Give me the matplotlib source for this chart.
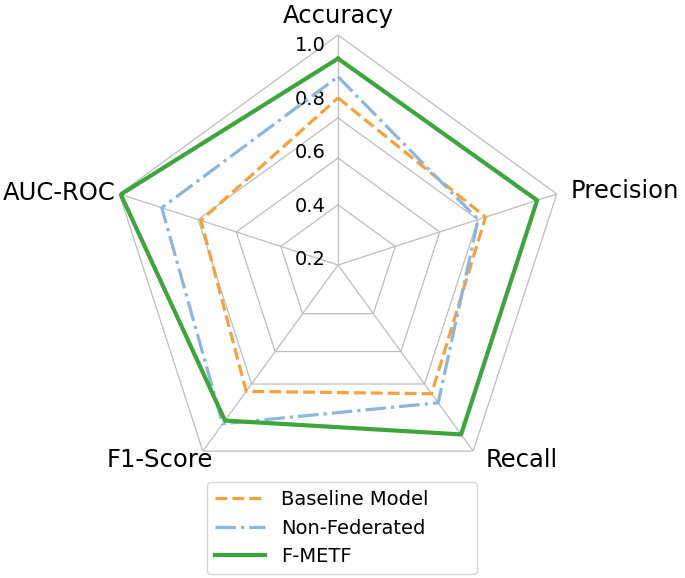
import numpy as np
import matplotlib.pyplot as plt

# Values
categories = ['Accuracy', 'Precision', 'Recall', 'F1-Score', 'AUC-ROC']
baseline = [0.805, 0.760, 0.775, 0.764, 0.719]
non_federated = [0.884, 0.731, 0.817, 0.914, 0.873]
f_metf = [0.952, 0.963, 0.963, 0.899, 1.034]
r_ticks = [0.2, 0.4, 0.6, 0.8, 1.0]
grid_levels = [0.405, 0.58, 0.73]
r_min, r_max = 0.18, 1.04

angles = np.linspace(0, 2 * np.pi, len(categories), endpoint=False)
closed = np.append(angles, angles[0])

fig = plt.figure(figsize=(6.85, 5.78), dpi=100)
ax = fig.add_axes([0.1577, 0.1436, 0.6715, 0.7958], projection='polar')
ax.set_theta_offset(np.pi / 2)
ax.set_theta_direction(-1)
ax.set_ylim(r_min, r_max)
ax.set_xticks([])
ax.set_yticks([])
ax.spines['polar'].set_visible(False)
ax.grid(False)
ax.patch.set_visible(False)

# polygon grid and frame
for lev in grid_levels + [r_max]:
    ax.plot(closed, [lev] * len(closed), color='#bdbdbd', lw=0.9, zorder=1)
for a in angles:
    ax.plot([a, a], [r_min, r_max], color='#bdbdbd', lw=0.9, zorder=1)

# radial labels
for t in r_ticks:
    ax.annotate(f'{t:.1f}', xy=(0, t), xytext=(-12, 0), textcoords='offset pixels',
                ha='right', va='center', fontsize=14)

# category labels
label_pos = {
    'Accuracy': ((0, 7), 'center', 'bottom'),
    'Precision': ((14, 3), 'left', 'center'),
    'Recall': ((12, 3), 'left', 'top'),
    'F1-Score': ((10, 3), 'right', 'top'),
    'AUC-ROC': ((-4, 1), 'right', 'center'),
}
for a, name in zip(angles, categories):
    off, ha, va = label_pos[name]
    ax.annotate(name, xy=(a, r_max), xytext=off, textcoords='offset pixels',
                ha=ha, va=va, fontsize=17.5)

ax.plot(closed, baseline + baseline[:1], color='#f4a23c', lw=2.3, ls='--',
        label='Baseline Model', zorder=3)
ax.plot(closed, non_federated + non_federated[:1], color='#8db6dd', lw=2.3, ls='-.',
        label='Non-Federated', zorder=3)
ax.plot(closed, f_metf + f_metf[:1], color='#3ca63c', lw=3.0, ls='-',
        label='F-METF', zorder=4)

fig.legend(loc='upper left', bbox_to_anchor=(207 / 685, 1 - 482 / 578 - 0.01, 270 / 685, 0.01),
           mode='expand', fontsize=14, handlelength=2.6, labelspacing=0.5,
           borderaxespad=0, bbox_transform=fig.transFigure)

fig.savefig('out.png', dpi=100)
